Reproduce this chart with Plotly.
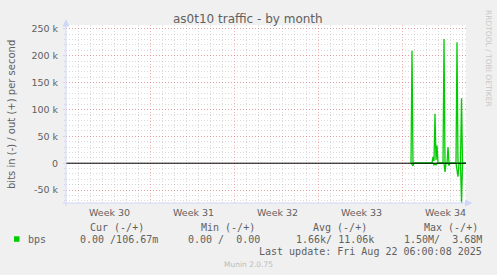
import plotly.graph_objects as go

# ---------------- data ----------------
TITLE = "as0t10 traffic - by month"
Y_TITLE = "bits in (-) / out (+) per second"

# out (+) series, bits per second
OUT_TIMES = ["2025-08-17 18:00", "2025-08-17 20:00", "2025-08-17 22:00",
             "2025-08-19 12:00", "2025-08-19 14:00", "2025-08-19 16:00",
             "2025-08-19 18:00", "2025-08-19 20:00", "2025-08-19 22:00",
             "2025-08-20 00:00", "2025-08-20 10:00", "2025-08-20 12:00",
             "2025-08-20 14:00", "2025-08-20 18:00", "2025-08-20 20:00",
             "2025-08-20 22:00", "2025-08-21 12:00", "2025-08-21 14:00",
             "2025-08-21 16:00", "2025-08-21 21:00", "2025-08-21 23:00",
             "2025-08-22 01:00", "2025-08-22 08:00"]
OUT_BPS = [0, 209000, 0,
           0, 12000, 4000,
           92000, 6000, 33000,
           0, 0, 231000,
           0, 0, 30000,
           0, 0, 225000,
           0, 0, 121000,
           0, 0]

# in (-) series, drawn negative
IN_TIMES = ["2025-08-17 18:00", "2025-08-17 22:00", "2025-08-18 00:00",
            "2025-08-19 14:00", "2025-08-19 16:00", "2025-08-19 18:00",
            "2025-08-19 20:00", "2025-08-19 22:00", "2025-08-20 12:00",
            "2025-08-20 14:00", "2025-08-20 16:00", "2025-08-20 20:00",
            "2025-08-20 22:00", "2025-08-21 00:00", "2025-08-21 12:00",
            "2025-08-21 14:00", "2025-08-21 16:00", "2025-08-21 18:00",
            "2025-08-21 21:00", "2025-08-21 23:00", "2025-08-22 01:00",
            "2025-08-22 08:00"]
IN_BPS = [0, -5000, 0,
          0, -3000, -1000,
          -3000, 0, 0,
          -16000, 0, 0,
          -4000, 0, 0,
          -10000, -25000, 0,
          0, -73000, 0,
          0]

X_RANGE = ["2025-07-20 00:00", "2025-08-22 08:00"]
Y_RANGE = [-74000, 257000]

Y_TICKS = [-50000, 0, 50000, 100000, 150000, 200000, 250000]
Y_TICK_TEXT = ["-50 k", "0", "50 k", "100 k", "150 k", "200 k", "250 k"]

WEEK_LABELS = ["Week 30", "Week 31", "Week 32", "Week 33", "Week 34"]
WEEK_LABEL_TIMES = ["2025-07-23 14:00", "2025-07-30 14:00", "2025-08-06 14:00",
                    "2025-08-13 14:00", "2025-08-20 14:00"]

LEGEND_NAME = "bps"
LEGEND_HEADERS = ["Cur (-/+)", "Min (-/+)", "Avg (-/+)", "Max (-/+)"]
LEGEND_VALUES = ["0.00 /106.67m", "0.00 /  0.00", "1.66k/ 11.06k", "1.50M/  3.68M"]
LAST_UPDATE = "Last update: Fri Aug 22 06:00:08 2025"
FOOTER = "Munin 2.0.75"
WATERMARK = "RRDTOOL / TOBI OETIKER"

# ---------------- style ----------------
W, H = 497, 275
L, R, T, B = 66, 31, 25, 72
PW, PH = W - L - R, H - T - B
GREEN = "#00CC00"
FONT_C = "#606060"
AXIS_C = "#CFD6F8"
SANS = "DejaVu Sans"
MONO = "DejaVu Sans Mono"
MAJOR_GRID = "rgba(235,90,90,0.45)"
MINOR_GRID = "rgba(150,150,150,0.35)"


def px(x):
    return (x - L) / PW


def py(y):
    return (T + PH - y) / PH


def nb(s):
    return s.replace(" ", "\u00a0")


fig = go.Figure()
fig.add_trace(go.Scatter(x=IN_TIMES, y=IN_BPS, mode="lines",
                         line=dict(color=GREEN, width=1.3), hoverinfo="skip"))
fig.add_trace(go.Scatter(x=OUT_TIMES, y=OUT_BPS, mode="lines",
                         line=dict(color=GREEN, width=1.3), hoverinfo="skip"))

annotations = []
annotations.append(dict(text=TITLE, x=px(248), y=py(18.5), xref="paper", yref="paper",
                        xanchor="center", yanchor="middle", showarrow=False,
                        font=dict(family=SANS, size=12, color=FONT_C)))
annotations.append(dict(text=Y_TITLE, x=px(11), y=py(115), xref="paper", yref="paper",
                        xanchor="center", yanchor="middle", showarrow=False, textangle=-90,
                        font=dict(family=SANS, size=10, color=FONT_C)))
annotations.append(dict(text=WATERMARK, x=px(489), y=py(58), xref="paper", yref="paper",
                        xanchor="center", yanchor="middle", showarrow=False, textangle=90,
                        font=dict(family=SANS, size=7.5, color="#C8C8C8")))
for lab, t in zip(WEEK_LABELS, WEEK_LABEL_TIMES):
    annotations.append(dict(text=lab, x=t, y=py(212.3), xref="x", yref="paper",
                            xanchor="center", yanchor="middle", showarrow=False,
                            font=dict(family=SANS, size=9.5, color=FONT_C)))
header_x = [89, 200, 312, 423]
value_x = [79, 187, 295, 403]
for s, x in zip(LEGEND_HEADERS, header_x):
    annotations.append(dict(text=nb(s), x=px(x - 1), y=py(227.5), xref="paper", yref="paper",
                            xanchor="left", yanchor="middle", showarrow=False,
                            font=dict(family=MONO, size=10, color=FONT_C)))
annotations.append(dict(text=LEGEND_NAME, x=px(26), y=py(239.2), xref="paper", yref="paper",
                        xanchor="left", yanchor="middle", showarrow=False,
                        font=dict(family=MONO, size=10, color=FONT_C)))
for s, x in zip(LEGEND_VALUES, value_x):
    annotations.append(dict(text=nb(s), x=px(x - 1), y=py(239.2), xref="paper", yref="paper",
                            xanchor="left", yanchor="middle", showarrow=False,
                            font=dict(family=MONO, size=10, color=FONT_C)))
annotations.append(dict(text=nb(LAST_UPDATE), x=px(484), y=py(251.7), xref="paper", yref="paper",
                        xanchor="right", yanchor="middle", showarrow=False,
                        font=dict(family=MONO, size=10, color=FONT_C)))
annotations.append(dict(text=FOOTER, x=px(248), y=py(264.3), xref="paper", yref="paper",
                        xanchor="center", yanchor="middle", showarrow=False,
                        font=dict(family=SANS, size=7.5, color="#BBBBBB")))

shapes = [
    # zero line
    dict(type="line", xref="paper", yref="y", x0=0, x1=1, y0=0, y1=0,
         line=dict(color="#000000", width=1), layer="above"),
    # axes
    dict(type="line", xref="paper", yref="paper", x0=px(63), x1=px(466), y0=py(203), y1=py(203),
         line=dict(color=AXIS_C, width=1), layer="above"),
    dict(type="line", xref="paper", yref="paper", x0=px(66), x1=px(66), y0=py(206), y1=py(24),
         line=dict(color=AXIS_C, width=1), layer="above"),
    # arrows
    dict(type="path", xref="paper", yref="paper", layer="above",
         path=f"M {px(465)} {py(199.5)} L {px(472.5)} {py(203)} L {px(465)} {py(206.5)} Z",
         fillcolor=AXIS_C, line=dict(width=0)),
    dict(type="path", xref="paper", yref="paper", layer="above",
         path=f"M {px(62.5)} {py(26.5)} L {px(66)} {py(19)} L {px(69.5)} {py(26.5)} Z",
         fillcolor=AXIS_C, line=dict(width=0)),
    # legend swatch
    dict(type="rect", xref="paper", yref="paper", x0=px(14), x1=px(19.5), y0=py(241.8), y1=py(236.3),
         fillcolor=GREEN, line=dict(width=0)),
]

fig.update_layout(
    width=W, height=H,
    margin=dict(l=L, r=R, t=T, b=B, pad=0),
    paper_bgcolor="#F0F0F0", plot_bgcolor="#FFFFFF",
    showlegend=False,
    annotations=annotations, shapes=shapes,
    xaxis=dict(type="date", range=X_RANGE, tickmode="linear", tick0="2025-07-20",
               dtick=7 * 86400000, showticklabels=False, ticks="",
               showgrid=True, gridcolor=MAJOR_GRID, griddash="1px,2px", gridwidth=1,
               minor=dict(tickmode="linear", tick0="2025-07-20", dtick=86400000, showgrid=True,
                          gridcolor=MINOR_GRID, griddash="1px,2px", gridwidth=1, ticks=""),
               zeroline=False, showline=False, fixedrange=True),
    yaxis=dict(range=Y_RANGE, tickmode="array", tickvals=Y_TICKS, ticktext=Y_TICK_TEXT,
               tickfont=dict(family=SANS, size=9.5, color=FONT_C),
               ticks="outside", ticklen=2, tickcolor=AXIS_C, ticklabelstandoff=3,
               showgrid=True, gridcolor=MAJOR_GRID, griddash="1px,2px", gridwidth=1,
               minor=dict(tickmode="linear", tick0=0, dtick=10000, showgrid=True,
                          gridcolor=MINOR_GRID, griddash="1px,2px", gridwidth=1,
                          ticks="outside", ticklen=1, tickcolor=AXIS_C),
               zeroline=False, showline=False, fixedrange=True),
)

fig.write_html("out.html", config={"displayModeBar": False})
